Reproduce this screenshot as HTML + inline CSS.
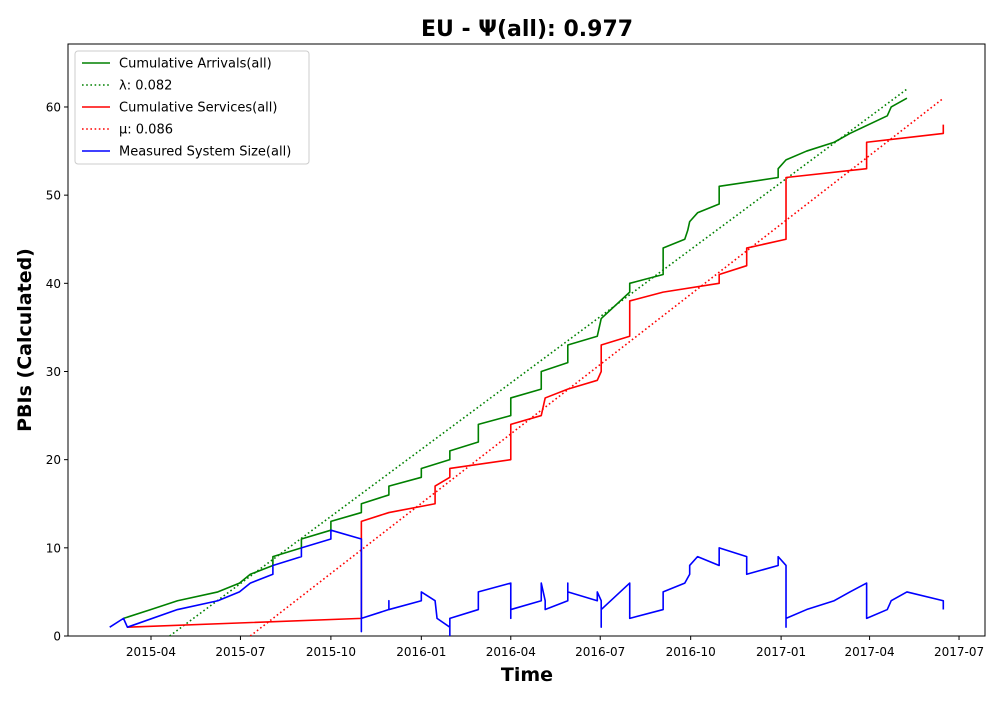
<!DOCTYPE html>
<html><head><meta charset="utf-8"><style>
body{margin:0;background:#fff;font-family:"DejaVu Sans","Liberation Sans",sans-serif}
svg text{font-family:"DejaVu Sans","Liberation Sans",sans-serif}
</style></head><body>
<svg id="c" width="1000" height="700" xmlns="http://www.w3.org/2000/svg"></svg>
<script>
// days since 2015-04-01
const tickDays=[0,91,183,275,366,457,549,641,731,822];
const tickLabels=["2015-04","2015-07","2015-10","2016-01","2016-04","2016-07","2016-10","2017-01","2017-04","2017-07"];
const yTicks=[0,10,20,30,40,50,60];
const blueSeries=[[-42,1],[-28,2],[-24,1],[27,3],[68,4],[90,5],[101,6],[124,7],[124,8],[153,9],[153,10],[183,11],[183,12],[214,11],[214,0.5],[214,2],[242,3],[242,4],[242,3],[275,4],[275,5],[289,4],[291,2],[304,1],[304,0],[304,2],[333,3],[333,5],[366,6],[366,2],[366,3],[397,4],[397,6],[401,4],[401,3],[424,4],[424,6],[424,5],[454,4],[454,5],[458,4],[458,1],[458,3],[487,6],[487,2],[521,3],[521,5],[543,6],[548,7],[548,8],[556,9],[578,8],[578,10],[606,9],[606,7],[638,8],[638,9],[646,8],[646,1],[646,2],[667,3],[695,4],[711,5],[728,6],[728,2],[749,3],[753,4],[769,5],[806,4],[806,3]];
const arrivals=[[-28,2],[0,3],[27,4],[68,5],[90,6],[101,7],[124,8],[124,9],[153,10],[153,11],[183,12],[183,13],[214,14],[214,15],[242,16],[242,17],[275,18],[275,19],[304,20],[304,21],[333,22],[333,24],[366,25],[366,27],[397,28],[397,30],[424,31],[424,33],[454,34],[456,35],[458,36],[487,39],[487,40],[521,41],[521,44],[543,45],[546,46],[548,47],[556,48],[578,49],[578,51],[638,52],[638,53],[646,54],[667,55],[695,56],[711,57],[749,59],[753,60],[769,61]];
const services=[[-24,1],[214,2],[214,13],[242,14],[289,15],[289,17],[304,18],[304,19],[366,20],[366,24],[397,25],[401,27],[424,28],[454,29],[458,30],[458,33],[487,34],[487,38],[521,39],[578,40],[578,41],[606,42],[606,44],[646,45],[646,52],[728,53],[728,56],[806,57],[806,58]];
const lambdaRate=0.0827, lambdaStart=19, lambdaEnd=769;
const muRate=0.0865, muStart=101, muEnd=806;

const X0=68,X1=985,Y0=44,Y1=636;
const xs=d=>151+d*0.983;
const ys=v=>636-v*8.817;
const svg=document.getElementById('c');
const NS="http://www.w3.org/2000/svg";
function mk(t,a,p){const e=document.createElementNS(NS,t);for(const k in a)e.setAttribute(k,a[k]);(p||svg).appendChild(e);return e;}
let e;
e=mk('rect',{x:X0,y:Y0,width:X1-X0,height:Y1-Y0,fill:'none',stroke:'#000','stroke-width':1});


tickDays.forEach((d,i)=>{
  const x=xs(d);
  mk('line',{x1:x,x2:x,y1:Y1,y2:Y1+4,stroke:'#000'});
  const t=mk('text',{x:x,y:Y1+20,'font-size':12,'text-anchor':'middle'});
  t.textContent=tickLabels[i];
  
  
});
yTicks.forEach(v=>{
  const y=ys(v);
  mk('line',{x1:X0-4,x2:X0,y1:y,y2:y,stroke:'#000'});
  const t=mk('text',{x:X0-7,y:y+4.5,'font-size':12,'text-anchor':'end'});
  t.textContent=v;
  
  
});
const clip=mk('clipPath',{id:'cp'});mk('rect',{x:X0,y:Y0,width:X1-X0,height:Y1-Y0},clip);
const g=mk('g',{'clip-path':'url(#cp)'});
function line(pts,color,name,dash){
  const p=mk('polyline',{points:pts.map(q=>xs(q[0])+','+ys(q[1])).join(' '),fill:'none',stroke:color,'stroke-width':1.6,'stroke-linejoin':'round'},g);
  if(dash)p.setAttribute('stroke-dasharray',dash);
  
  
}
line([[lambdaStart,0],[lambdaEnd,lambdaRate*(lambdaEnd-lambdaStart)]],'green','lambda-line','1.6 2.6');
line([[muStart,0],[muEnd,muRate*(muEnd-muStart)]],'red','mu-line','1.6 2.6');
line(arrivals,'green','cumulative-arrivals-line');
line(services,'red','cumulative-services-line');
line(blueSeries,'blue','system-size-line');
// title & labels
let t=mk('text',{x:527,y:36,'font-size':22,'font-weight':'bold','text-anchor':'middle'});
t.textContent='EU -  Ψ(all): 0.977';


t=mk('text',{x:527,y:681,'font-size':19,'font-weight':'bold','text-anchor':'middle'});
t.textContent='Time';


t=mk('text',{x:0,y:0,'font-size':19,'font-weight':'bold','text-anchor':'middle',transform:'translate(31,340) rotate(-90)'});
t.textContent='PBIs (Calculated)';


// legend
const lg=mk('g',{});


mk('rect',{x:75,y:51,width:234,height:113,rx:3,fill:'#fff','fill-opacity':0.8,stroke:'#ccc'},lg);
const legendLabels=['Cumulative Arrivals(all)','λ: 0.082','Cumulative Services(all)','μ: 0.086','Measured System Size(all)'];
const legendColors=['green','green','red','red','blue'];
const legendDash=[null,'1.6 2.6',null,'1.6 2.6',null];
legendLabels.forEach((s,i)=>{
  const y=63+i*22;
  const l=mk('line',{x1:82,x2:110,y1:y,y2:y,stroke:legendColors[i],'stroke-width':1.6},lg);
  if(legendDash[i])l.setAttribute('stroke-dasharray',legendDash[i]);
  const tx=mk('text',{x:119,y:y+4.5,'font-size':13},lg);
  tx.textContent=s;
  
  
});
</script>
</body></html>
